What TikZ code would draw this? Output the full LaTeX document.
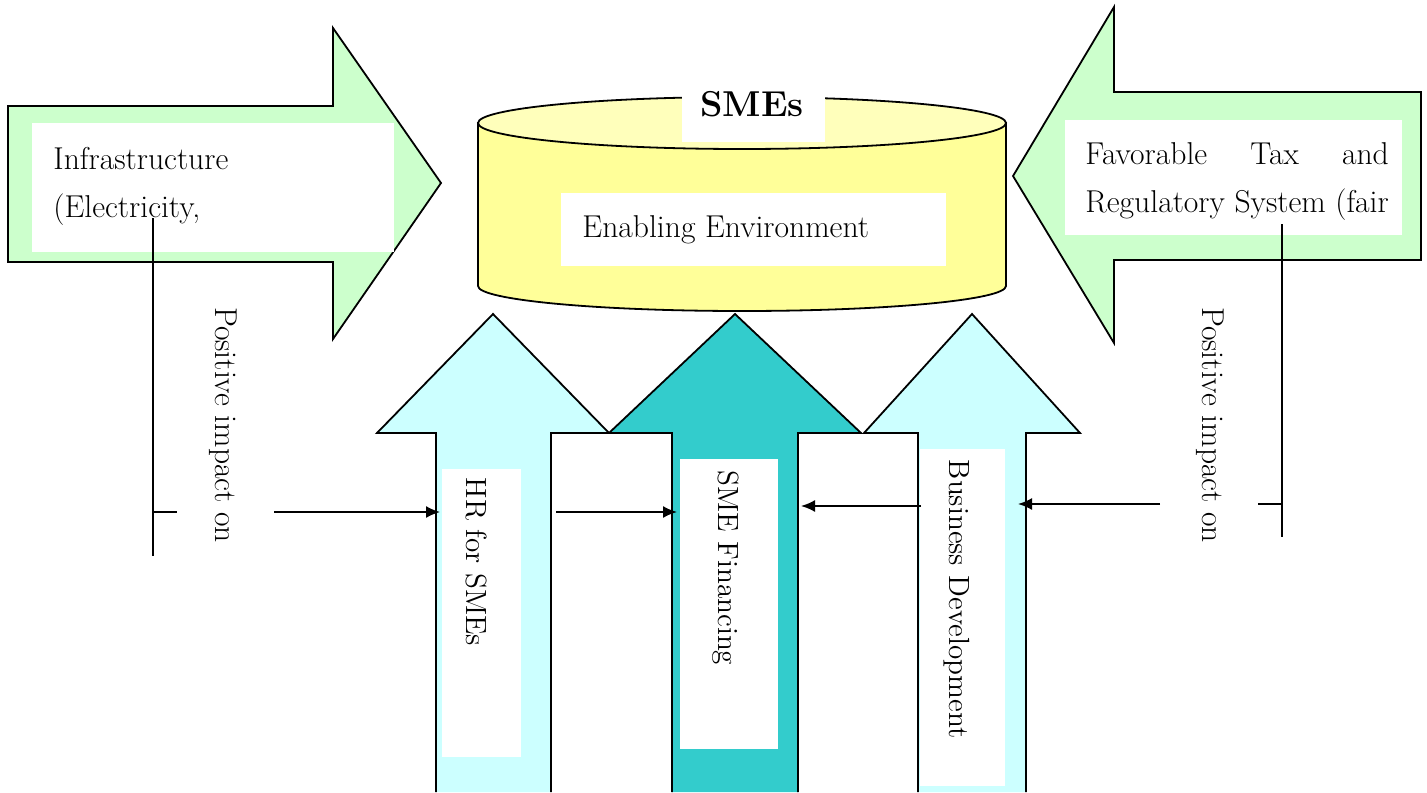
\documentclass[tikz,border=0pt]{standalone}
\usepackage{fontspec}
\usepackage{tikz}
\usetikzlibrary{arrows,arrows.meta,positioning,fit}

\definecolor{pushGreen}{RGB}{204,255,204}
\definecolor{pillarCyan}{RGB}{204,255,255}
\definecolor{pillarTeal}{RGB}{51,204,204}
\definecolor{envSide}{RGB}{255,255,153}
\definecolor{envTop}{RGB}{255,255,187}

\newlength\regWidth

\begin{document}
\settowidth{\regWidth}{\fontsize{15.8}{24}\selectfont Regulatory System (fair}
\begin{tikzpicture}
	[ x=0.5pt, y=-0.5pt,
		bigArrow/.style={draw,line width=0.9pt,line join=miter},
		whiteBox/.style={fill=white,inner sep=0pt},
		flatText/.style={inner sep=0pt,font=\fontsize{15.8}{24}\selectfont,align=left},
		upText/.style={inner sep=0pt,rotate=-90,font=\fontsize{14.6}{17}\selectfont},
		sideText/.style={inner sep=0pt,rotate=-90,font=\fontsize{15.8}{17}\selectfont},
		connLine/.style={line width=0.9pt},
		arrowOut/.style={-{Latex[length=7pt,width=6pt]},line width=0.9pt}]

	\useasboundingbox (0,0) rectangle (1427,792);

	% side arrows
	\path[bigArrow,fill=pushGreen] (8,106) -- (333,106) -- (333,28) -- (441,183)
		-- (333,339) -- (333,262) -- (8,262) -- cycle;
	\path[bigArrow,fill=pushGreen] (1421,92) -- (1114,92) -- (1114,7) -- (1013,176)
		-- (1114,343) -- (1114,260) -- (1421,260) -- cycle;

	% enabling environment cylinder
	\path[bigArrow,fill=envSide] (478,123) -- (478,286)
		arc[start angle=180,end angle=0,x radius=264,y radius=25] -- (1006,123) -- cycle;
	\path[bigArrow,fill=envTop] (742,123) ellipse [x radius=264,y radius=26];

	% pillars
	\path[bigArrow,fill=pillarCyan] (436,792) -- (436,433) -- (377,433) -- (493,314)
		-- (609,433) -- (551,433) -- (551,792);
	\path[bigArrow,fill=pillarTeal] (672,792) -- (672,433) -- (609,433) -- (735,314)
		-- (861,433) -- (798,433) -- (798,792);
	\path[bigArrow,fill=pillarCyan] (918,792) -- (918,433) -- (864,433) -- (972,314)
		-- (1080,433) -- (1026,433) -- (1026,792);

	% white boxes
	\node[whiteBox,fit={(32,123) (394,252)}] (infraBox) {};
	\node[whiteBox,fit={(1065,120) (1402,235)}] (taxBox) {};
	\node[whiteBox,fit={(682,88) (825,142)}] (smesBox) {};
	\node[whiteBox,fit={(561,193) (946,266)}] (envBox) {};
	\node[whiteBox,fit={(442,469) (521,757)}] (hrBox) {};
	\node[whiteBox,fit={(680,459) (778,749)}] (finBox) {};
	\node[whiteBox,fit={(920,449) (1005,786)}] (bdBox) {};

	% texts
	\node[flatText,anchor=base west] (infra) at (53,217) {Infrastructure\\(Electricity,};
	\node[flatText,anchor=base west] (tax) at (1085,212)
		{\makebox[\regWidth][s]{Favorable Tax and}\\Regulatory System (fair};
	\node[inner sep=0pt,anchor=base,font=\fontsize{18}{20}\selectfont\bfseries] (smes) at (752,117) {SMEs};
	\node[flatText,anchor=base west] (env) at (582,237) {Enabling Environment};
	\node[sideText] (posLeft) at (223,425) {Positive impact on};
	\node[sideText] (posRight) at (1210,425) {Positive impact on};
	\node[upText] (hr) at (476,562) {HR for SMEs};
	\node[upText] (fin) at (726,568) {SME Financing};
	\node[upText] (bd) at (957,599) {Business Development};

	% connectors
	\coordinate (infraStub) at (153,218);
	\coordinate (infraEnd) at (153,556);
	\coordinate (infraTick) at (153,512);
	\coordinate (posLeftIn) at (177,512);
	\coordinate (posLeftOut) at (274,512);
	\coordinate (hrIn) at (440,512);
	\coordinate (hrOut) at (556,512);
	\coordinate (finInL) at (677,512);
	\coordinate (bdOutL) at (921,506);
	\coordinate (finInR) at (801,506);
	\coordinate (taxStub) at (1282,224);
	\coordinate (taxEnd) at (1282,537);
	\coordinate (taxTick) at (1282,504);
	\coordinate (posRightIn) at (1258,504);
	\coordinate (posRightOut) at (1160,504);
	\coordinate (bdIn) at (1018,504);

	\draw[connLine] (infraStub) -- (infraEnd);
	\draw[connLine] (infraTick) -- (posLeftIn);
	\draw[arrowOut] (posLeftOut) -- (hrIn);
	\draw[arrowOut] (hrOut) -- (finInL);
	\draw[arrowOut] (bdOutL) -- (finInR);
	\draw[connLine] (taxStub) -- (taxEnd);
	\draw[connLine] (taxTick) -- (posRightIn);
	\draw[arrowOut] (posRightOut) -- (bdIn);
\end{tikzpicture}
\end{document}
